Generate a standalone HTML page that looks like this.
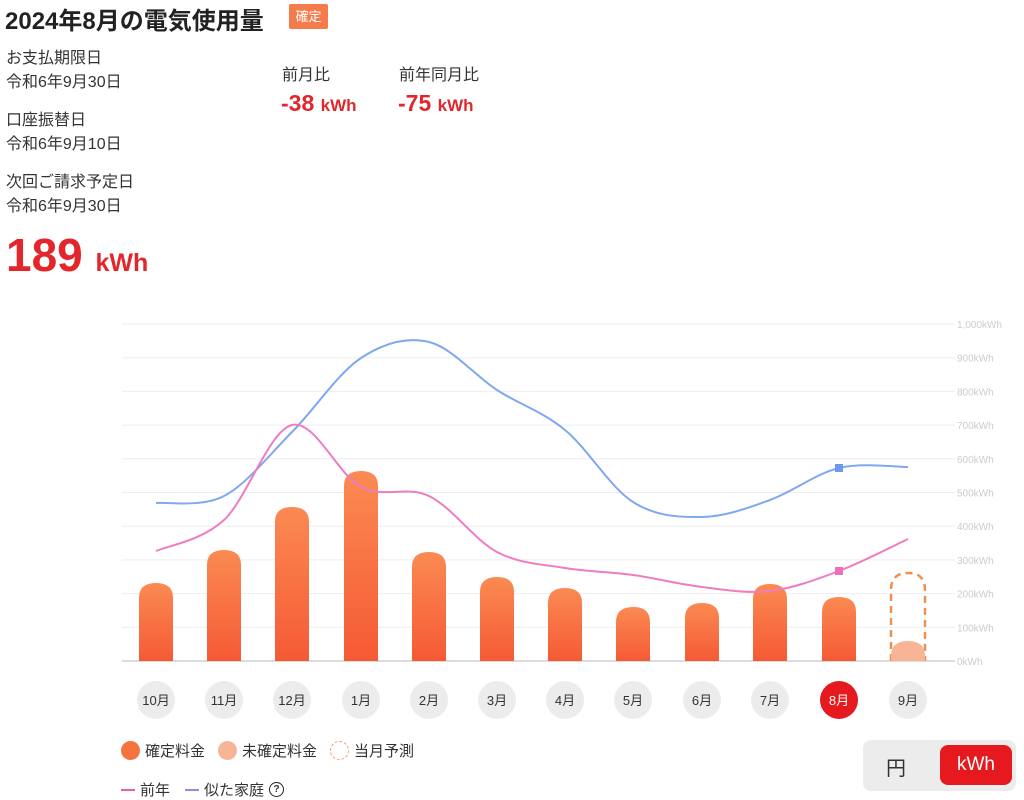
<!DOCTYPE html>
<html><head><meta charset="utf-8"><style>
body{margin:0;width:1024px;height:799px;background:#fff;font-family:"Liberation Sans","Noto Sans CJK JP",sans-serif;color:#333;position:relative;overflow:hidden}
.a{position:absolute;white-space:nowrap}
.red{color:#e3262b;font-weight:bold}
</style></head><body>
<div class="a" style="left:5px;top:1px;font-size:24px;font-weight:bold;color:#222">2024年8月の電気使用量</div>
<div class="a" style="left:289px;top:4px;width:39px;height:25px;background:#f47b4a;color:#fff;font-size:13px;line-height:25px;text-align:center;border-radius:2px">確定</div>
<div class="a" style="left:6px;top:47px;font-size:16px;line-height:24px">お支払期限日<br>令和6年9月30日</div>
<div class="a" style="left:6px;top:109px;font-size:16px;line-height:24px">口座振替日<br>令和6年9月10日</div>
<div class="a" style="left:6px;top:171px;font-size:16px;line-height:24px">次回ご請求予定日<br>令和6年9月30日</div>
<div class="a red" style="left:6px;top:228px;font-size:46px">189 <span style="font-size:25px">kWh</span></div>
<div class="a" style="left:282px;top:61px;font-size:16px">前月比</div>
<div class="a" style="left:399px;top:61px;font-size:16px">前年同月比</div>
<div class="a red" style="left:281px;top:90px;font-size:23px">-38 <span style="font-size:17px">kWh</span></div>
<div class="a red" style="left:398px;top:90px;font-size:23px">-75 <span style="font-size:17px">kWh</span></div>
<svg class="a" style="left:0;top:0" width="1024" height="799" id="s"></svg>
<div class="a" style="left:121px;top:740px;font-size:15px;display:flex;align-items:center;gap:5px">
<span style="width:19px;height:19px;border-radius:50%;background:#f4733f;display:inline-block"></span>確定料金
<span style="width:19px;height:19px;border-radius:50%;background:#f8b596;display:inline-block;margin-left:8px"></span>未確定料金
<span style="width:17px;height:17px;border-radius:50%;border:1px dashed #f0a070;display:inline-block;margin-left:8px"></span>当月予測</div>
<div class="a" style="left:121px;top:779px;font-size:15px;display:flex;align-items:center;gap:5px">
<span style="width:14px;height:2px;background:#e85fb0;display:inline-block"></span>前年
<span style="width:14px;height:2px;background:#8f8fe0;display:inline-block;margin-left:10px"></span>似た家庭<span style="width:13px;height:13px;border:1.5px solid #222;border-radius:50%;font-size:10px;line-height:13px;text-align:center;font-weight:bold">?</span></div>
<div class="a" style="left:863px;top:740px;width:153px;height:51px;background:#ececec;border-radius:8px"></div>
<div class="a" style="left:886px;top:752px;font-size:20px">円</div>
<div class="a" style="left:940px;top:745px;width:72px;height:40px;background:#e5191e;border-radius:8px;color:#fff;font-size:19px;line-height:40px;text-align:center">kWh</div>
<script>
var s=document.getElementById('s'),h='';
for(var i=0;i<=10;i++){var y=661-i*33.7;h+='<line x1="122" x2="955" y1="'+y+'" y2="'+y+'" stroke="'+(i?'#eee':'#bbb')+'" stroke-width="1"/>';
h+='<text x="957" y="'+(y+4)+'" font-size="10" fill="#ccc" font-family="Liberation Sans">'+(i==10?'1,000':i*100)+'kWh</text>';}
var xs=[156,224,292,361,429,497,565,633,702,770,839,908],tops=[583,550,507,471,552,577,588,607,603,584,597,641],mo=['10月','11月','12月','1月','2月','3月','4月','5月','6月','7月','8月','9月'];
h+='<defs><linearGradient id="g" x1="0" y1="0" x2="0" y2="1"><stop offset="0" stop-color="#fb8a52"/><stop offset="1" stop-color="#f55a35"/></linearGradient></defs>';
xs.forEach(function(x,i){var t=tops[i],w=34,r=15;
if(i==11){h+='<path d="M891 661V590Q891 573 908 573Q925 573 925 590V661" fill="none" stroke="#ec9150" stroke-width="2.5" stroke-dasharray="7,5"/>';}
h+='<path d="M'+(x-w/2)+' 661V'+(t+r)+'Q'+(x-w/2)+' '+t+' '+x+' '+t+'Q'+(x+w/2)+' '+t+' '+(x+w/2)+' '+(t+r)+'V661Z" fill="'+(i==11?'#f8b596':'url(#g)')+'"/>';
h+='<circle cx="'+x+'" cy="700" r="19" fill="'+(i==10?'#e5191e':'#ececec')+'"/><text x="'+x+'" y="705" font-size="13" text-anchor="middle" fill="'+(i==10?'#fff':'#333')+'" font-family="Liberation Sans,Noto Sans CJK JP,sans-serif">'+mo[i]+'</text>';});
function sm(p){var d='M'+p[0][0]+' '+p[0][1];for(var i=0;i<p.length-1;i++){var a=p[i-1]||p[i],b=p[i],c=p[i+1],e=p[i+2]||c;d+='C'+(b[0]+(c[0]-a[0])/6)+' '+(b[1]+(c[1]-a[1])/6)+' '+(c[0]-(e[0]-b[0])/6)+' '+(c[1]-(e[1]-b[1])/6)+' '+c[0]+' '+c[1];}return d;}
var bl=[503,496,432,358,342,390,430,502,517,500,468,467],pk=[551,520,425,487,496,552,568,575,587,591,571,539];
h+='<path d="'+sm(xs.map(function(x,i){return[x,bl[i]]}))+'" fill="none" stroke="#7fa8f0" stroke-width="2"/>';
h+='<path d="'+sm(xs.map(function(x,i){return[x,pk[i]]}))+'" fill="none" stroke="#ef7cc0" stroke-width="2"/>';
h+='<rect x="835" y="464" width="8" height="8" fill="#6d9af0"/><rect x="835" y="567" width="8" height="8" fill="#ef6fba"/>';
s.innerHTML=h;
</script>
</body></html>
